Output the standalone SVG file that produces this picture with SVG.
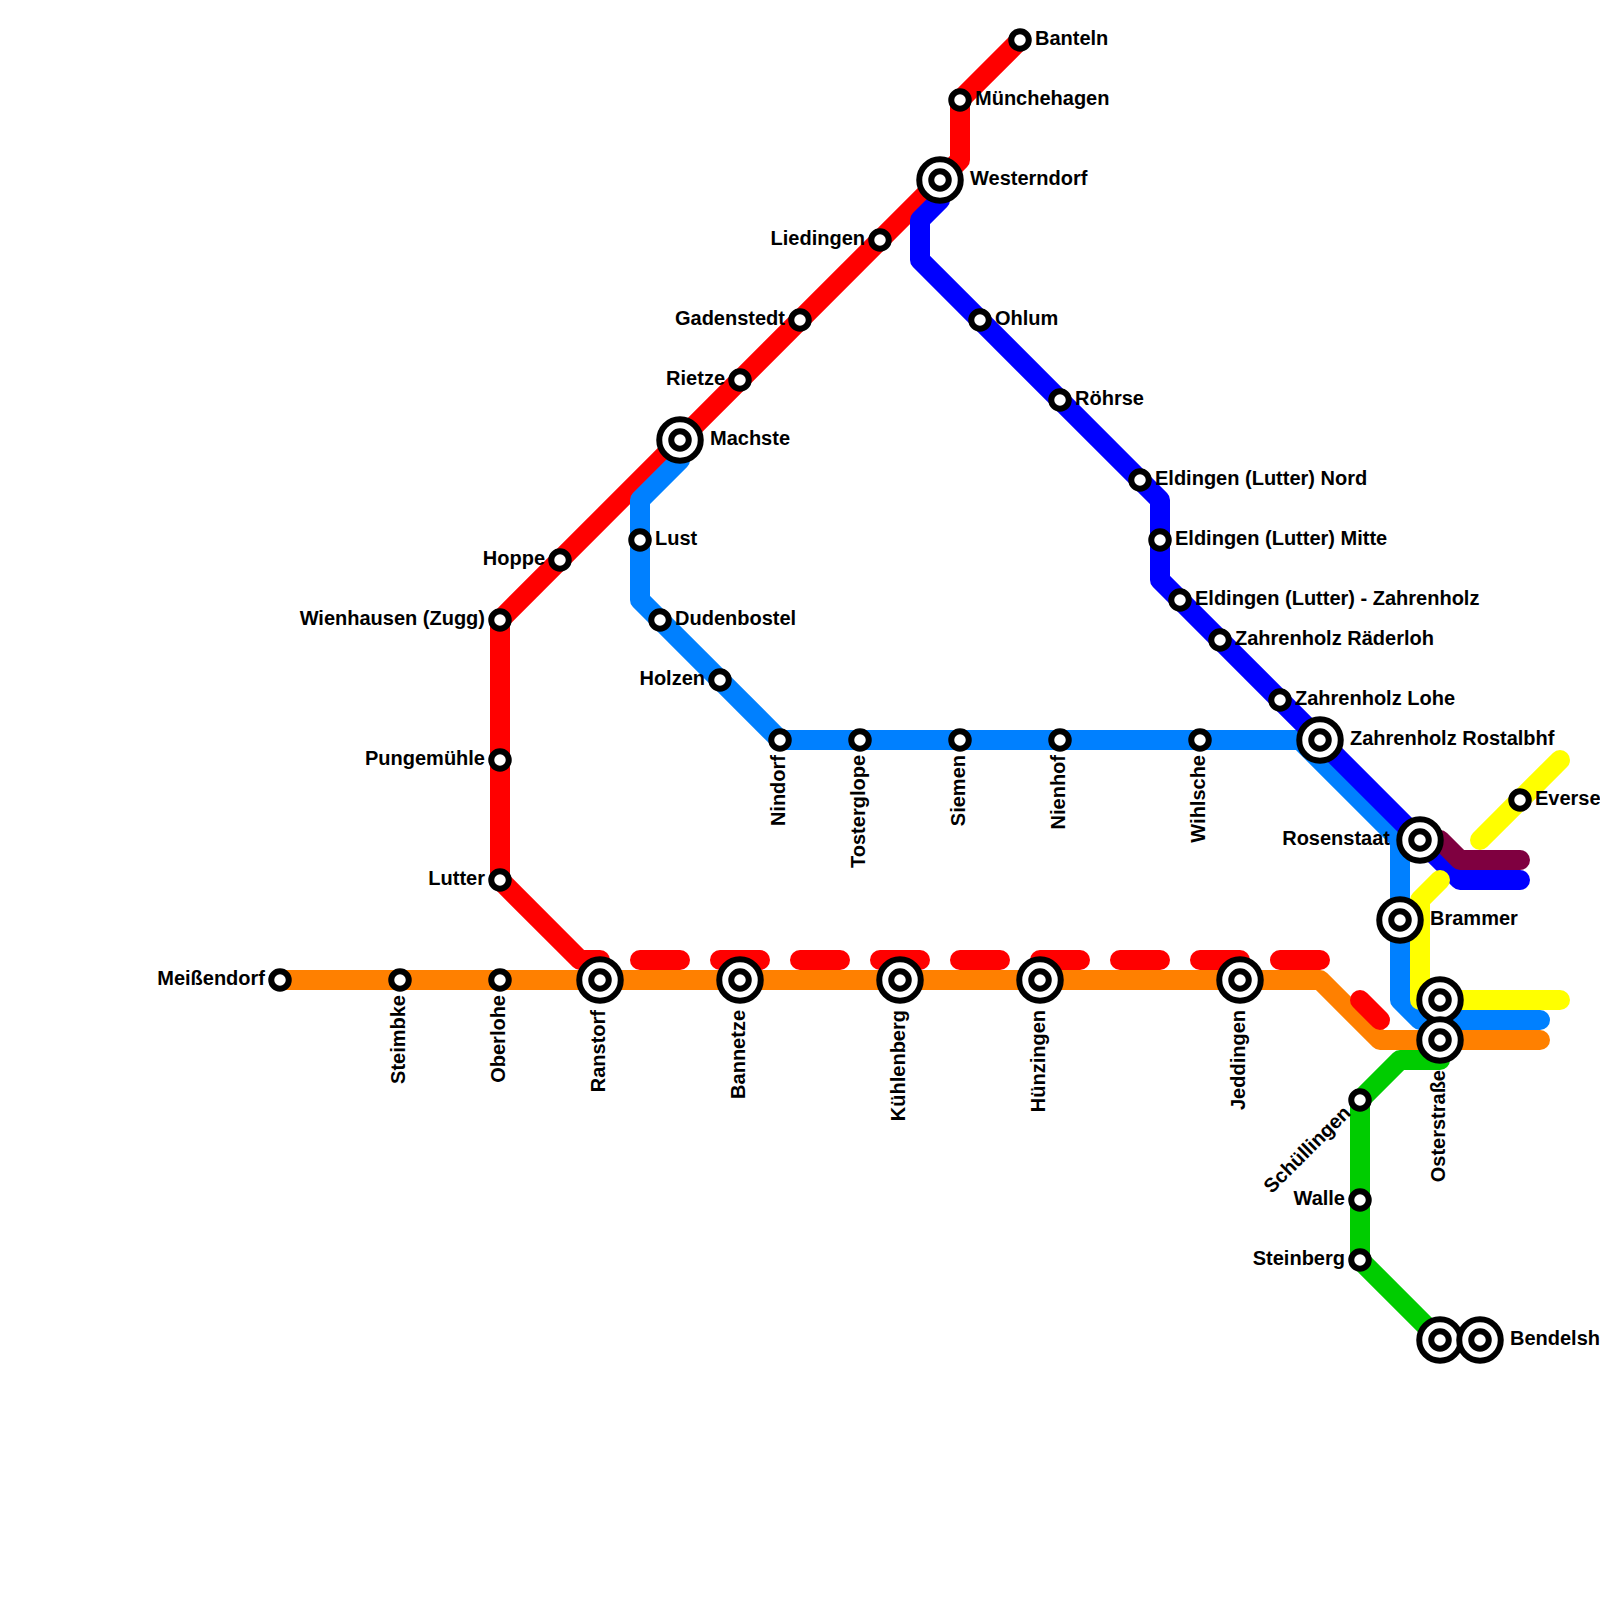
<svg xmlns="http://www.w3.org/2000/svg" width="1600" height="1600" viewBox="0 0 1600 1600">
<style>
.l{fill:none;stroke-width:20;stroke-linecap:round;stroke-linejoin:round}
text{font-family:"Liberation Sans",Arial,sans-serif;font-weight:bold;font-size:20px;fill:#000}
.e{text-anchor:end}
</style>
<rect width="1600" height="1600" fill="#fff"/>
<defs>
<g id="sm"><circle r="8.75" fill="#fff" stroke="#000" stroke-width="6"/></g>
<g id="bg"><circle r="20.75" fill="#fff" stroke="#000" stroke-width="6"/><circle r="8.75" fill="#fff" stroke="#000" stroke-width="6"/></g>
</defs>
<g id="connectors">
<path class="l" stroke="#ff8000" d="M280 980H1320L1380 1040H1540"/>
<path class="l" stroke="#ff0000" d="M1020 40L960 100V160L500 620V880L580 960H600"/>
<path class="l" stroke="#ff0000" stroke-dasharray="40 40" d="M640 960H1320"/>
<path class="l" stroke="#ff0000" d="M1360 1000L1380 1020"/>
<path class="l" stroke="#0080ff" d="M680 460L640 500V600L780 740H1300L1400 840V1000L1420 1020H1540"/>
<path class="l" stroke="#0000ff" d="M940 200L920 220V260L1160 500V580L1460 880H1520"/>
<path class="l" stroke="#7f0040" d="M1440 840L1460 860H1520"/>
<path class="l" stroke="#ffff00" d="M1560 760L1480 840"/>
<path class="l" stroke="#ffff00" d="M1440 880L1420 900V1000H1560"/>
<path class="l" stroke="#00cc00" d="M1440 1060H1400L1360 1100V1260L1440 1340"/>
</g>
<g id="n1"><use href="#sm" x="1020" y="40"/><text x="1035" y="45">Banteln</text></g>
<g id="n2"><use href="#sm" x="960" y="100"/><text x="975" y="105">Münchehagen</text></g>
<g id="n3"><use href="#bg" x="940" y="180"/><text x="970" y="185">Westerndorf</text></g>
<g id="n4"><use href="#sm" x="880" y="240"/><text class="e" x="865" y="245">Liedingen</text></g>
<g id="n5"><use href="#sm" x="800" y="320"/><text class="e" x="785" y="325">Gadenstedt</text></g>
<g id="n6"><use href="#sm" x="740" y="380"/><text class="e" x="725" y="385">Rietze</text></g>
<g id="n7"><use href="#bg" x="680" y="440"/><text x="710" y="445">Machste</text></g>
<g id="n8"><use href="#sm" x="560" y="560"/><text class="e" x="545" y="565">Hoppe</text></g>
<g id="n9"><use href="#sm" x="500" y="620"/><text class="e" x="485" y="625">Wienhausen (Zugg)</text></g>
<g id="n10"><use href="#sm" x="500" y="760"/><text class="e" x="485" y="765">Pungemühle</text></g>
<g id="n11"><use href="#sm" x="500" y="880"/><text class="e" x="485" y="885">Lutter</text></g>
<g id="n12"><use href="#sm" x="280" y="980"/><text class="e" x="265" y="985">Meißendorf</text></g>
<g id="n13"><use href="#sm" x="400" y="980"/><text class="e" transform="translate(405 995) rotate(-90)">Steimbke</text></g>
<g id="n14"><use href="#sm" x="500" y="980"/><text class="e" transform="translate(505 995) rotate(-90)">Oberlohe</text></g>
<g id="n15"><use href="#bg" x="600" y="980"/><text class="e" transform="translate(605 1010) rotate(-90)">Ranstorf</text></g>
<g id="n16"><use href="#bg" x="740" y="980"/><text class="e" transform="translate(745 1010) rotate(-90)">Bannetze</text></g>
<g id="n17"><use href="#bg" x="900" y="980"/><text class="e" transform="translate(905 1010) rotate(-90)">Kühlenberg</text></g>
<g id="n18"><use href="#bg" x="1040" y="980"/><text class="e" transform="translate(1045 1010) rotate(-90)">Hünzingen</text></g>
<g id="n19"><use href="#bg" x="1240" y="980"/><text class="e" transform="translate(1245 1010) rotate(-90)">Jeddingen</text></g>
<g id="n20"><use href="#sm" x="640" y="540"/><text x="655" y="545">Lust</text></g>
<g id="n21"><use href="#sm" x="660" y="620"/><text x="675" y="625">Dudenbostel</text></g>
<g id="n22"><use href="#sm" x="720" y="680"/><text class="e" x="705" y="685">Holzen</text></g>
<g id="n23"><use href="#sm" x="780" y="740"/><text class="e" transform="translate(785 755) rotate(-90)">Nindorf</text></g>
<g id="n24"><use href="#sm" x="860" y="740"/><text class="e" transform="translate(865 755) rotate(-90)">Tosterglope</text></g>
<g id="n25"><use href="#sm" x="960" y="740"/><text class="e" transform="translate(965 755) rotate(-90)">Siemen</text></g>
<g id="n26"><use href="#sm" x="1060" y="740"/><text class="e" transform="translate(1065 755) rotate(-90)">Nienhof</text></g>
<g id="n27"><use href="#sm" x="1200" y="740"/><text class="e" transform="translate(1205 755) rotate(-90)">Wihlsche</text></g>
<g id="n28"><use href="#bg" x="1320" y="740"/><text x="1350" y="745">Zahrenholz Rostalbhf</text></g>
<g id="n29"><use href="#sm" x="980" y="320"/><text x="995" y="325">Ohlum</text></g>
<g id="n30"><use href="#sm" x="1060" y="400"/><text x="1075" y="405">Röhrse</text></g>
<g id="n31"><use href="#sm" x="1140" y="480"/><text x="1155" y="485">Eldingen (Lutter) Nord</text></g>
<g id="n32"><use href="#sm" x="1160" y="540"/><text x="1175" y="545">Eldingen (Lutter) Mitte</text></g>
<g id="n33"><use href="#sm" x="1180" y="600"/><text x="1195" y="605">Eldingen (Lutter) - Zahrenholz</text></g>
<g id="n34"><use href="#sm" x="1220" y="640"/><text x="1235" y="645">Zahrenholz Räderloh</text></g>
<g id="n35"><use href="#sm" x="1280" y="700"/><text x="1295" y="705">Zahrenholz Lohe</text></g>
<g id="n36"><use href="#bg" x="1420" y="840"/><text class="e" x="1390" y="845">Rosenstaat</text></g>
<g id="n37"><use href="#sm" x="1520" y="800"/><text x="1535" y="805">Everse</text></g>
<g id="n38"><use href="#bg" x="1400" y="920"/><text x="1430" y="925">Brammer</text></g>
<g id="n39"><use href="#bg" x="1440" y="1000"/></g>
<g id="n40"><use href="#bg" x="1440" y="1040"/><text class="e" transform="translate(1445 1070) rotate(-90)">Osterstraße</text></g>
<g id="n41"><use href="#sm" x="1360" y="1100"/><text class="e" transform="translate(1352 1114) rotate(-45)">Schüllingen</text></g>
<g id="n42"><use href="#sm" x="1360" y="1200"/><text class="e" x="1345" y="1205">Walle</text></g>
<g id="n43"><use href="#sm" x="1360" y="1260"/><text class="e" x="1345" y="1265">Steinberg</text></g>
<g id="n44"><use href="#bg" x="1440" y="1340"/></g>
<g id="n45"><use href="#bg" x="1480" y="1340"/><text x="1510" y="1345">Bendelsh</text></g>
</svg>
